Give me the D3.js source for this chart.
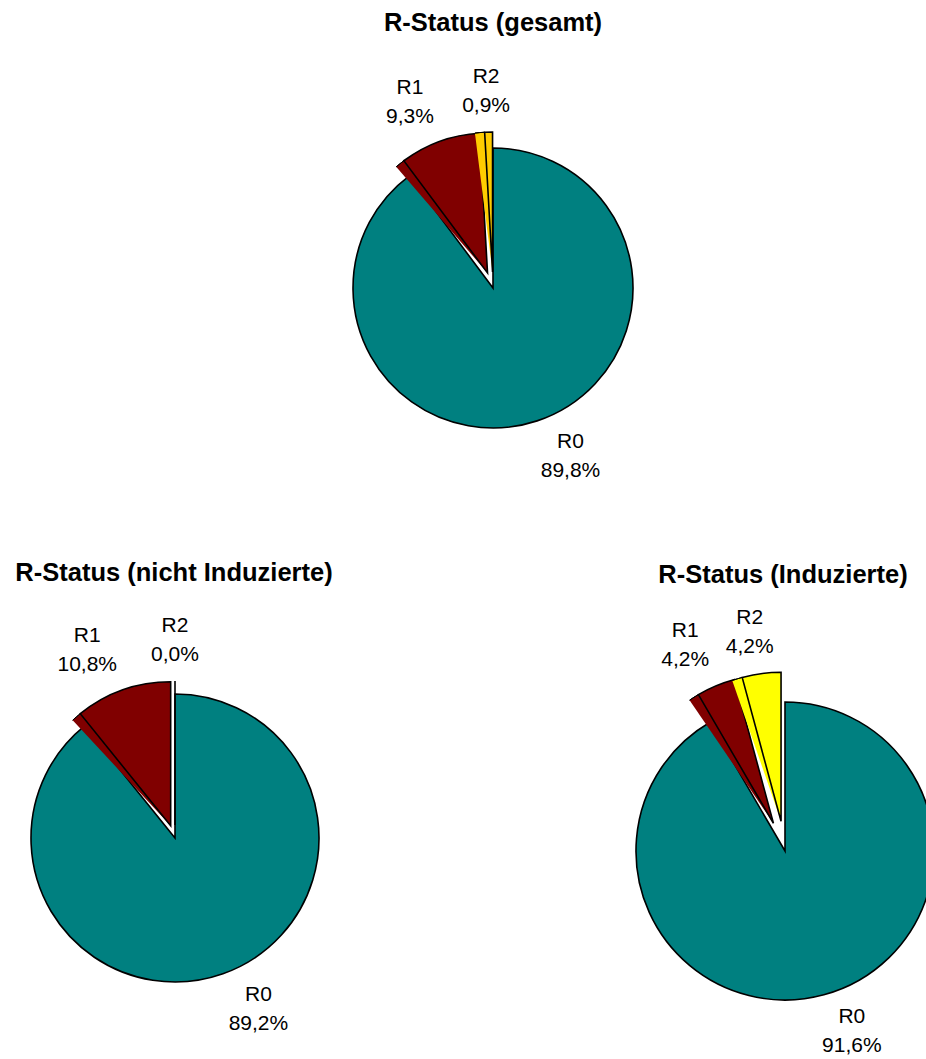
<!DOCTYPE html>
<html>
<head>
<meta charset="utf-8">
<script src="https://cdn.jsdelivr.net/npm/d3@7"></script>
<style>
  html, body { margin: 0; padding: 0; background: #fff; }
  svg { display: block; }
  text { font-family: "Liberation Sans", Arial, sans-serif; fill: #000; }
</style>
</head>
<body>
<script>
// Shares (in %) per R-status group
const categories = ["R0", "R1", "R2"];
const gesamt = [89.8, 9.3, 0.9];
const nichtInduzierte = [89.2, 10.8, 0.0];
const induzierte = [91.6, 4.2, 4.2];
const titles = ["R-Status (gesamt)", "R-Status (nicht Induzierte)", "R-Status (Induzierte)"];
const colorsGesamt = ["#008080", "#800000", "#FFCC00"];
const colorsInduzierte = ["#008080", "#800000", "#FFFF00"];

const W = 926, H = 1059;
const svg = d3.select("body").append("svg").attr("width", W).attr("height", H);

// layout of the three pies
const charts = [
  { title: titles[0], values: gesamt,          colors: colorsGesamt,     cx: 493, cy: 288, r: 140, explode: 16, tx: 493, ty: 31 },
  { title: titles[1], values: nichtInduzierte, colors: colorsGesamt,     cx: 175, cy: 838, r: 144, explode: 13, tx: 174, ty: 581 },
  { title: titles[2], values: induzierte,      colors: colorsInduzierte, cx: 785, cy: 851, r: 149, explode: 30, tx: 783, ty: 583 }
];

const pie = d3.pie().sort(null).value(d => d).startAngle(0).endAngle(2 * Math.PI);
const fmt = v => v.toFixed(1).replace(".", ",") + "%";
const clamp = v => Math.max(-1, Math.min(1, v));
const sideAngle = 4 * Math.PI / 180; // visible side face of a pulled-out slice

charts.forEach(c => {
  const g = svg.append("g");
  const arc = d3.arc().innerRadius(0).outerRadius(c.r);
  const rim = d3.arc().innerRadius(c.r).outerRadius(c.r);
  const arcs = pie(c.values);

  arcs.forEach((a, i) => {
    const mid = (a.startAngle + a.endAngle) / 2;
    const off = i > 0 ? c.explode : 0;
    const ox = c.cx + off * Math.sin(mid);
    const oy = c.cy - off * Math.cos(mid);
    const sg = g.append("g").attr("transform", `translate(${ox},${oy})`);

    if (i > 0 && a.value > 0) {
      const side = { startAngle: a.startAngle - sideAngle, endAngle: a.startAngle };
      sg.append("path").attr("d", arc(side)).attr("fill", c.colors[i]);
      sg.append("path").attr("d", rim(side)).attr("fill", "none")
        .attr("stroke", "#000").attr("stroke-width", 1);
    }
    sg.append("path")
      .attr("d", arc(a))
      .attr("fill", c.colors[i])
      .attr("stroke", "#000")
      .attr("stroke-width", 1.6)
      .attr("stroke-linejoin", "miter");

    // label block outside the slice along its bisector
    const lab = g.append("text").attr("text-anchor", "middle").style("font-size", "21px");
    const t1 = lab.append("tspan").text(categories[i]);
    const t2 = lab.append("tspan").text(fmt(c.values[i]));
    const w = Math.max(t1.node().getComputedTextLength(), t2.node().getComputedTextLength());
    const ar = c.r * 1.12;
    const ax = ox + ar * Math.sin(mid);
    const ay = oy - ar * Math.cos(mid);
    const below = Math.cos(mid) < 0;
    const bx = ax + (w / 2) * clamp(3 * Math.sin(mid));
    const by = ay + (below ? 18 : -25);
    t1.attr("x", bx).attr("y", by - 7);
    t2.attr("x", bx).attr("y", by + 22);
  });

  svg.append("text")
    .attr("x", c.tx).attr("y", c.ty)
    .attr("text-anchor", "middle")
    .style("font-size", "25.5px")
    .style("font-weight", "bold")
    .text(c.title);
});
</script>
</body>
</html>
